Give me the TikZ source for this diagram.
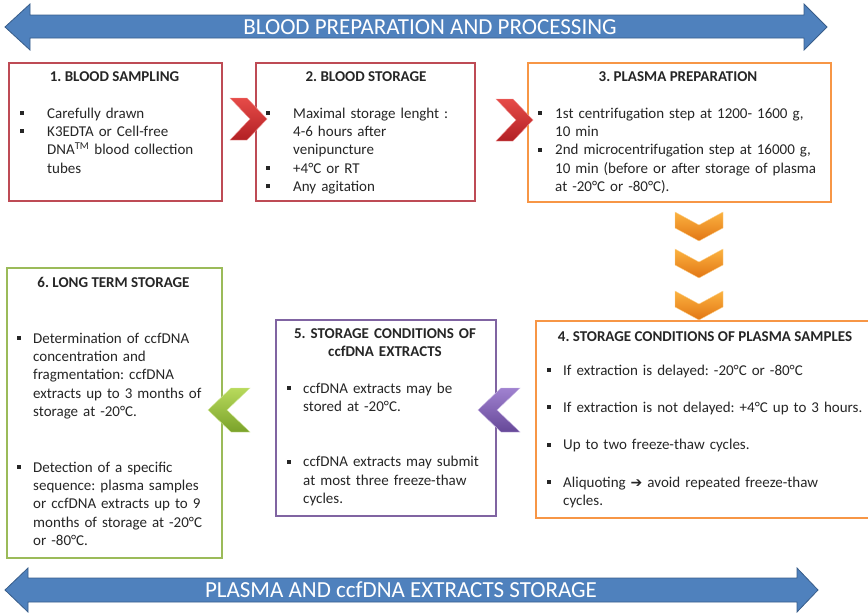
\documentclass[tikz,border=0pt]{standalone}
\usepackage{fontspec}
\setmainfont{Carlito}
\newfontfamily\symfont{DejaVu Sans}
\frenchspacing

\definecolor{bannerblue}{RGB}{79,129,189}
\definecolor{bannerline}{RGB}{56,93,138}
\definecolor{boxred}{RGB}{190,75,85}
\definecolor{boxorange}{RGB}{247,150,70}
\definecolor{boxpurple}{RGB}{128,100,162}
\definecolor{boxgreen}{RGB}{155,187,89}
\definecolor{redtop}{RGB}{230,75,72}
\definecolor{redbot}{RGB}{178,32,36}
\definecolor{orangetop}{RGB}{251,178,64}
\definecolor{orangebot}{RGB}{226,118,20}
\definecolor{purpletop}{RGB}{160,130,208}
\definecolor{purplebot}{RGB}{102,72,152}
\definecolor{greentop}{RGB}{184,218,92}
\definecolor{greenbot}{RGB}{122,162,42}

% square bullet and hanging indent
\newcommand{\sqb}[1]{\makebox[#1][l]{\rule[3.3pt]{4pt}{4pt}}}
\newcommand{\ind}[1]{\hspace*{#1}}

\tikzset{
	chevright/.pic={\path[#1] (0,0) -- (17,0) -- (37,21) -- (17,42) -- (0,42) -- (20,21) -- cycle;},
	chevleft/.pic={\path[#1] (42,0) -- (23,0) -- (0,22) -- (23,44) -- (42,44) -- (19,22) -- cycle;},
	chevdown/.pic={\path[#1] (0,0) -- (24,13) -- (48,0) -- (48,16) -- (24,29) -- (0,16) -- cycle;},
	redchev/.style={top color=redtop, bottom color=redbot, draw=redtop!60!white, line width=0.4pt},
	orangechev/.style={top color=orangetop, bottom color=orangebot, draw=orangetop!60!white, line width=0.4pt},
	purplechev/.style={top color=purpletop, bottom color=purplebot, draw=purpletop!60!white, line width=0.4pt},
	greenchev/.style={top color=greentop, bottom color=greenbot, draw=greentop!60!white, line width=0.4pt}
}

\begin{document}
\begin{tikzpicture}[x=1pt, y=-1pt,
	every node/.style={font=\fontsize{15}{18.4}\selectfont, text=black!85},
	box/.style={draw, line width=1.8pt, fill=white, inner sep=0pt, anchor=north west},
	ttl/.style={font=\fontsize{15}{18.4}\selectfont\bfseries, inner sep=0pt, anchor=base},
	body/.style={text width=330pt, align=left, inner sep=0pt, anchor=base west},
	banner/.style={fill=bannerblue, draw=bannerline, line width=0.8pt},
	bantxt/.style={font=\fontsize{23}{27}\selectfont, text=white, inner sep=0pt}]

	\useasboundingbox (0,0) rectangle (868,613);

	% banners
	\draw[banner] (5,27) -- (30,4) -- (30,15) -- (804,15) -- (804,4) -- (827,27) -- (804,50) -- (804,38) -- (30,38) -- (30,50) -- cycle;
	\node[bantxt] (top) at (430,27) {BLOOD PREPARATION AND PROCESSING};
	\draw[banner] (5,590) -- (28,568) -- (28,578) -- (797,578) -- (797,568) -- (818,590) -- (797,612) -- (797,602) -- (28,602) -- (28,612) -- cycle;
	\node[bantxt] (bottom) at (401,590) {PLASMA AND ccfDNA EXTRACTS STORAGE};

	% boxes
	\node[box, draw=boxred, minimum width=213pt, minimum height=138pt] (b1) at (8,62) {};
	\node[box, draw=boxred, minimum width=219pt, minimum height=138pt] (b2) at (255,62) {};
	\node[box, draw=boxorange, minimum width=303pt, minimum height=139pt] (b3) at (527,62) {};
	\node[box, draw=boxorange, minimum width=350pt, minimum height=197pt] (b4) at (535,320) {};
	\node[box, draw=boxpurple, minimum width=220pt, minimum height=196pt] (b5) at (275,319) {};
	\node[box, draw=boxgreen, minimum width=215pt, minimum height=290pt] (b6) at (6,267) {};

	% titles
	\node[ttl] (t1) at (114.5,81) {1. BLOOD SAMPLING};
	\node[ttl] (t2) at (366,81) {2. BLOOD STORAGE};
	\node[ttl] (t3) at (678,81) {3. PLASMA PREPARATION};
	\node[ttl] (t4) at (705,341) {4. STORAGE CONDITIONS OF PLASMA SAMPLES};
	\node[ttl, text width=215pt, align=center] (t5) at (385,338) {5. STORAGE CONDITIONS OF\\ ccfDNA EXTRACTS};
	\node[ttl] (t6) at (113.5,287) {6. LONG TERM STORAGE};

	% bullet lists
	\node[body] (d1) at (20,118) {\sqb{27pt}Carefully drawn\\
		\sqb{27pt}K3EDTA or Cell-free\\
		\ind{27pt}DNA\textsuperscript{TM} blood collection\\
		\ind{27pt}tubes};
	\node[body] (d2) at (266,118) {\sqb{27pt}Maximal storage lenght :\\
		\ind{27pt}4-6 hours after\\
		\ind{27pt}venipuncture\\
		\sqb{27pt}+4°C or RT\\
		\sqb{27pt}Any agitation};
	\node[body] (d3) at (538,118) {\sqb{17pt}1st centrifugation step at 1200- 1600 g,\\
		\ind{17pt}10 min\\
		\sqb{17pt}2nd microcentrifugation step at 16000 g,\\
		\ind{17pt}10 min (before or after storage of plasma\\
		\ind{17pt}at -20°C or -80°C).};
	\node[body] (d4) at (547,375) {\sqb{16pt}If extraction is delayed: -20°C or -80°C\\[19pt]
		\sqb{16pt}If extraction is not delayed: +4°C up to 3 hours.\\[19pt]
		\sqb{16pt}Up to two freeze-thaw cycles.\\[19pt]
		\sqb{16pt}Aliquoting {\symfont\fontsize{14}{14}\selectfont ➔} avoid repeated freeze-thaw\\
		\ind{16pt}cycles.};
	\node[body] (d5) at (287,393) {\sqb{16pt}ccfDNA extracts may be\\
		\ind{16pt}stored at -20°C.\\[37pt]
		\sqb{16pt}ccfDNA extracts may submit\\
		\ind{16pt}at most three freeze-thaw\\
		\ind{16pt}cycles.};
	\node[body] (d6) at (17,343) {\sqb{16pt}Determination of ccfDNA\\
		\ind{16pt}concentration and\\
		\ind{16pt}fragmentation: ccfDNA\\
		\ind{16pt}extracts up to 3 months of\\
		\ind{16pt}storage at -20°C.\\[37pt]
		\sqb{16pt}Detection of a specific\\
		\ind{16pt}sequence: plasma samples\\
		\ind{16pt}or ccfDNA extracts up to 9\\
		\ind{16pt}months of storage at -20°C\\
		\ind{16pt}or -80°C.};

	% chevrons between the steps
	\pic at (230,98) {chevright=redchev};
	\pic at (496,99) {chevright=redchev};
	\pic at (675,212) {chevdown=orangechev};
	\pic at (675,249) {chevdown=orangechev};
	\pic at (675,291) {chevdown=orangechev};
	\pic at (478,388) {chevleft=purplechev};
	\pic at (208,388) {chevleft=greenchev};

\end{tikzpicture}
\end{document}
